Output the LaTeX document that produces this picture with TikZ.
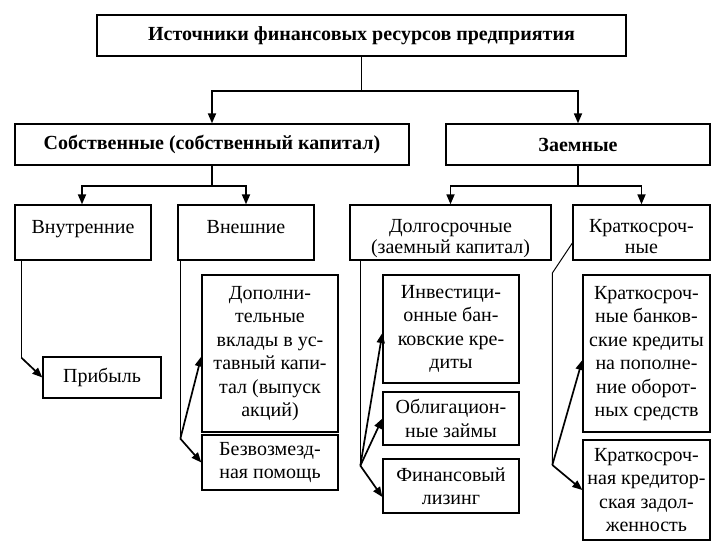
\documentclass[tikz,border=0pt]{standalone}
\usepackage{fontspec}
\setmainfont{Liberation Serif}
\usetikzlibrary{arrows.meta}
\newcommand{\lowtext}[2]{\raisebox{#1}[\height][\depth]{\begin{tabular}{@{}c@{}}#2\end{tabular}}}
\begin{document}
\begin{tikzpicture}[x=1pt,y=-1pt,
  box/.style={draw=black,line width=1.3pt,rectangle,inner sep=0pt,align=center,
    font=\fontsize{20}{23.5}\selectfont},
  bbox/.style={box,font=\fontsize{20}{23.5}\selectfont\bfseries},
  trunk/.style={line width=1.5pt},
  arr/.style={line width=1.7pt,-{Triangle[length=10pt,width=8pt]}},
  thin/.style={line width=1pt}]
\useasboundingbox (0,0) rectangle (726,544);
% level 1
\node[bbox,minimum width=529pt,minimum height=41pt] (top) at (361.5,35.5) {Источники финансовых ресурсов предприятия};
% level 2
\node[bbox,minimum width=394pt,minimum height=41pt] (own) at (212,144.5) {Собственные (собственный капитал)};
\node[bbox,minimum width=264pt,minimum height=41pt] (loan) at (578,144.5) {Заемные};
% level 3
\node[box,minimum width=136pt,minimum height=55pt,text depth=12pt] (vnutr) at (83,232.5) {Внутренние};
\node[box,minimum width=136pt,minimum height=55pt,text depth=12pt] (vnesh) at (246,232.5) {Внешние};
\node[box,minimum width=201pt,minimum height=55pt] (dolg) at (450.5,232.5) {\lowtext{-6pt}{Долгосрочные\\[-2pt](заемный капитал)}};
\node[box,minimum width=137pt,minimum height=55pt] (krat) at (641.5,232.5) {\lowtext{-6pt}{Краткосроч-\\[-2pt]ные}};
% level 4
\node[box,minimum width=118pt,minimum height=41pt] (pribyl) at (102,377.5) {Прибыль};
\node[box,minimum width=136pt,minimum height=157pt] (dopoln) at (270,353.5) {Дополни-\\тельные\\вклады в ус-\\тавный капи-\\тал (выпуск\\акций)};
\node[box,minimum width=136pt,minimum height=55pt] (bezvoz) at (270,462.5) {Безвозмезд-\\ная помощь};
\node[box,minimum width=136pt,minimum height=108pt] (invest) at (451,329) {Инвестици-\\онные бан-\\ковские кре-\\диты};
\node[box,minimum width=136pt,minimum height=53pt] (oblig) at (451,418.5) {Облигацион-\\ные займы};
\node[box,minimum width=136pt,minimum height=54pt] (finans) at (451,486) {Финансовый\\лизинг};
\node[box,minimum width=127pt,minimum height=157pt] (kbank) at (646.5,353.5) {Краткосроч-\\ные банков-\\ские кредиты\\на пополне-\\ние оборот-\\ных средств};
\node[box,minimum width=127pt,minimum height=100pt] (kkred) at (646.5,490) {Краткосроч-\\ная кредитор-\\ская задол-\\женность};
% connectors level 1 -> 2
\draw[trunk] (top.south) -- ++(0,34) coordinate (t1);
\draw[arr] (t1) -| (own.north);
\draw[arr] (t1) -| (loan.north);
% level 2 -> 3
\draw[trunk] (own.south) -- ++(0,20) coordinate (o1);
\draw[arr] (o1) -| ([xshift=-1pt]vnutr.north);
\draw[arr] (o1) -| (vnesh.north);
\draw[trunk] (loan.south) -- ++(0,20) coordinate (l1);
\draw[arr] (l1) -| (dolg.north);
\draw[arr] (l1) -| (krat.north);
% level 3 -> 4
\draw[thin] ([xshift=7pt]vnutr.south west) -- ++(0,97) coordinate (v1);
\draw[arr] (v1) -- (pribyl.west);
\draw[thin] ([xshift=3pt]vnesh.south west) -- ++(0,178) coordinate (e1);
\draw[arr] (e1) -- ([yshift=-3pt]dopoln.west);
\draw[arr] (e1) -- (bezvoz.west);
\draw[thin] ([xshift=11pt]dolg.south west) -- ++(0,205) coordinate (d1);
\draw[arr] (d1) -- ([yshift=-4pt]invest.west);
\draw[arr] (d1) -- (oblig.west);
\draw[arr] (d1) -- ([yshift=-11pt]finans.west);
\draw[thin] ([yshift=-10.5pt]krat.west) -- ++(-20,30) -- ++(0,192) coordinate (k1);
\draw[arr] (k1) -- ([yshift=-6.5pt]kbank.west);
\draw[arr] (k1) -- (kkred.west);
\end{tikzpicture}
\end{document}
